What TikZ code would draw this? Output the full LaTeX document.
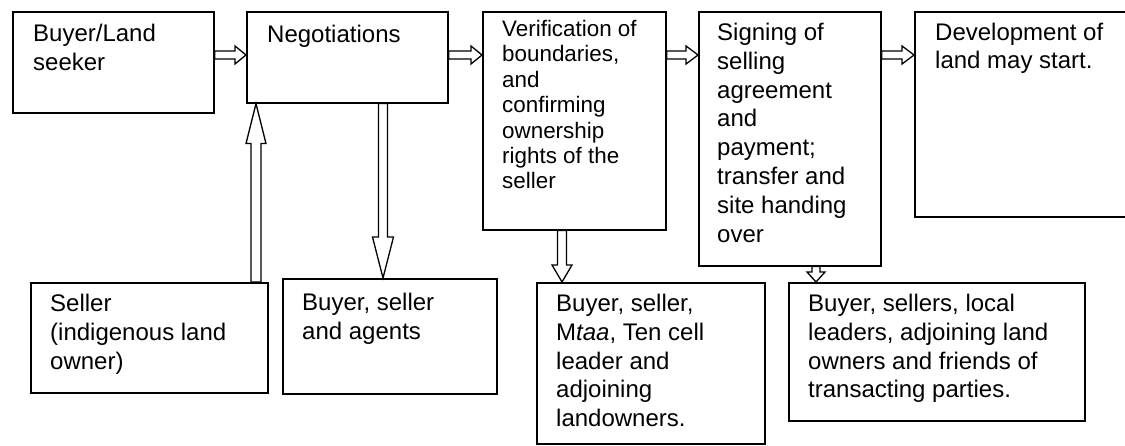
\documentclass[tikz,border=0pt]{standalone}
\usepackage{fontspec}
\setmainfont{Liberation Sans}
\usetikzlibrary{calc}
\tikzset{
  box/.style={draw, line width=1.6pt, rectangle, inner sep=0pt, anchor=north west},
  txt/.style={anchor=north west, inner sep=0pt, align=left,
    font=\fontsize{24}{28.8}\selectfont, execute at begin node={\rule{0pt}{19pt}}},
  txts/.style={anchor=north west, inner sep=0pt, align=left,
    font=\fontsize{22.4}{25.4}\selectfont, execute at begin node={\rule{0pt}{17.5pt}}},
  arr/.style={draw, line width=1.3pt, line join=miter},
}
\newcommand{\harr}[5]{\draw[arr] let \p1=#1, \p2=#2 in
  (\x1,\y1+#3) -- (\x2-#5,\y1+#3) -- (\x2-#5,\y1+#4) -- (\x2,\y1) --
  (\x2-#5,\y1-#4) -- (\x2-#5,\y1-#3) -- (\x1,\y1-#3) -- cycle;}
\newcommand{\darr}[5]{\draw[arr] let \p1=#1, \p2=#2 in
  (\x1-#3,\y1) -- (\x1-#3,\y2+#5) -- (\x1-#4,\y2+#5) -- (\x1,\y2) --
  (\x1+#4,\y2+#5) -- (\x1+#3,\y2+#5) -- (\x1+#3,\y1) -- cycle;}
\newcommand{\uarr}[5]{\draw[arr] let \p1=#1, \p2=#2 in
  (\x1-#3,\y1) -- (\x1-#3,\y2-#5) -- (\x1-#4,\y2-#5) -- (\x1,\y2) --
  (\x1+#4,\y2-#5) -- (\x1+#3,\y2-#5) -- (\x1+#3,\y1) -- cycle;}
\begin{document}
\begin{tikzpicture}[x=1pt, y=-1pt]
\useasboundingbox (0,0) rectangle (1125,446);
% boxes
\node[box, minimum width=201pt, minimum height=101pt] (buyer) at (12,11) {};
\node[box, minimum width=201pt, minimum height=91pt] (neg) at (246,11) {};
\node[box, minimum width=183pt, minimum height=218pt] (ver) at (482,11) {};
\node[box, minimum width=182pt, minimum height=254pt] (sign) at (698,11) {};
\node[box, minimum width=230pt, minimum height=205pt] (dev) at (914,11) {};
\node[box, minimum width=237pt, minimum height=110pt] (seller) at (30,282) {};
\node[box, minimum width=214pt, minimum height=115pt] (agents) at (282,278) {};
\node[box, minimum width=228pt, minimum height=161pt] (mtaa) at (536,282) {};
\node[box, minimum width=296pt, minimum height=138pt] (local) at (788,282) {};
% texts
\node[txt] (tbuyer) at ($(buyer.north west)+(21,13)$) {Buyer/Land\\seeker};
\node[txt] (tneg) at ($(neg.north west)+(21,12)$) {Negotiations};
\node[txts] (tver) at ($(ver.north west)+(20,9)$) {Verification of\\boundaries,\\and\\confirming\\ownership\\rights of the\\seller};
\node[txt] (tsign) at ($(sign.north west)+(19,12)$) {Signing of\\selling\\agreement\\and\\payment;\\transfer and\\site handing\\over};
\node[txt] (tdev) at ($(dev.north west)+(21,11.5)$) {Development of\\land may start.};
\node[txt] (tseller) at ($(seller.north west)+(20,12)$) {Seller\\(indigenous land\\owner)};
\node[txt] (tagents) at ($(agents.north west)+(20,15)$) {Buyer, seller\\and agents};
\node[txt] (tmtaa) at ($(mtaa.north west)+(20,12)$) {Buyer, seller,\\M\textit{taa}, Ten cell\\leader and\\adjoining\\landowners.};
\node[txt] (tlocal) at ($(local.north west)+(20,12)$) {Buyer, sellers, local\\leaders, adjoining land\\owners and friends of\\transacting parties.};
% arrows
\harr{(buyer.east |- 0,55)}{(neg.west |- 0,55)}{4pt}{9pt}{11pt}
\harr{(neg.east |- 0,55)}{(ver.west |- 0,55)}{4pt}{9pt}{11pt}
\harr{(ver.east |- 0,55)}{(sign.west |- 0,55)}{4pt}{9pt}{12pt}
\harr{(sign.east |- 0,55)}{(dev.west |- 0,55)}{4pt}{9pt}{12pt}
\uarr{(seller.north -| 256,0)}{(neg.south -| 256,0)}{5pt}{10pt}{40pt}
\darr{(neg.south -| 383,0)}{(agents.north -| 383,0)}{4.5pt}{10.5pt}{41pt}
\darr{(ver.south -| 562,0)}{(mtaa.north -| 562,0)}{4.5pt}{10pt}{17pt}
\darr{(sign.south -| 816,0)}{(local.north -| 816,0)}{4pt}{9pt}{10pt}
\end{tikzpicture}
\end{document}
